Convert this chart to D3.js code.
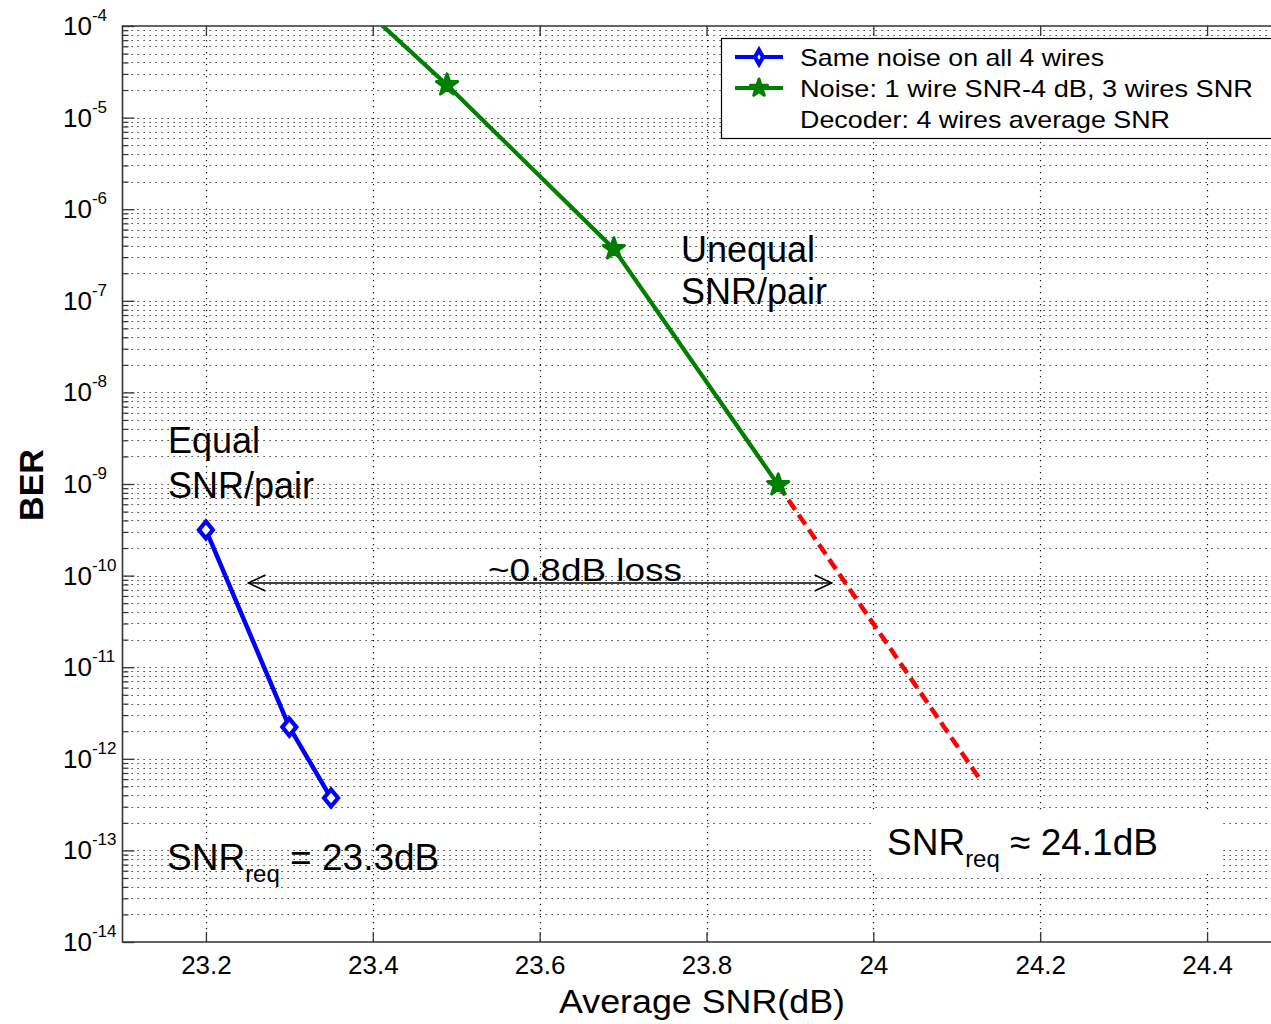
<!DOCTYPE html>
<html>
<head>
<meta charset="utf-8">
<script src="https://cdn.jsdelivr.net/npm/d3@7"></script>
<style>
  html, body { margin: 0; padding: 0; background: #fff; }
  svg { display: block; font-family: "Liberation Sans", Arial, Helvetica, sans-serif; }
</style>
</head>
<body>
<svg id="chart" width="1271" height="1024"></svg>
<script>
// ---------------- data ----------------
const xTickValues = [23.2, 23.4, 23.6, 23.8, 24.0, 24.2, 24.4];
const xTickLabels = ["23.2", "23.4", "23.6", "23.8", "24", "24.2", "24.4"];
const yTickExponents = [-4, -5, -6, -7, -8, -9, -10, -11, -12, -13, -14];

const equalSNR = [23.2, 23.3, 23.35];
const equalBER = [3.15e-10, 2.22e-12, 3.73e-13];

const unequalSNR = [23.29, 23.489, 23.689, 23.886];
const unequalBER = [1.05e-3, 2.27e-5, 3.68e-7, 9.75e-10];

const extrapSNR = [23.886, 24.13];
const extrapBER = [9.75e-10, 5.58e-13];

const legendLabels = ["Same noise on all 4 wires", "Noise: 1 wire SNR-4 dB, 3 wires SNR", "Decoder: 4 wires average SNR"];

const lossArrowSNR = [23.251, 23.95];
const lossArrowBER = 8.3e-11;

// ---------------- setup ----------------
const svg = d3.select("#chart");
const L = 122.5, T = 26, B = 942, R = 1290.5;
const x = d3.scaleLinear().domain([23.1, 24.5]).range([L, R]);
const y = d3.scaleLog().domain([1e-14, 1e-4]).range([B, T]);

svg.append("rect").attr("width", 1271).attr("height", 1024).attr("fill", "#fff");

svg.append("defs").append("clipPath").attr("id", "plotclip")
  .append("rect").attr("x", L).attr("y", T).attr("width", R - L).attr("height", B - T);

const yGridVals = [];
for (let e = -14; e < -4; e++) {
  for (let m = 1; m <= 9; m++) yGridVals.push(m * Math.pow(10, e));
}
const yMajor = yTickExponents.map(e => Math.pow(10, e));
const yMinor = yGridVals.filter(v => !yMajor.some(M => Math.abs(M - v) / M < 1e-9));

const grid = svg.append("g").attr("clip-path", "url(#plotclip)")
  .attr("stroke", "#111").attr("stroke-width", 1.2).attr("stroke-dasharray", "1.2,4.8");
grid.selectAll("line.h").data(yGridVals).join("line").attr("class", "h")
  .attr("x1", L + 3).attr("x2", R).attr("y1", d => Math.round(y(d)) + 0.5).attr("y2", d => Math.round(y(d)) + 0.5);
grid.selectAll("line.v").data(xTickValues).join("line").attr("class", "v")
  .attr("x1", d => Math.round(x(d)) + 0.5).attr("x2", d => Math.round(x(d)) + 0.5).attr("y1", T + 2).attr("y2", B);

// white box behind the right SNR_req annotation
svg.append("rect").attr("x", 872).attr("y", 812).attr("width", 348).attr("height", 61).attr("fill", "#fff");

// ---------------- axes ----------------
const axisColor = "#333";
const gx = svg.append("g").attr("transform", `translate(0,${B})`)
  .call(d3.axisBottom(x).tickValues(xTickValues).tickFormat((d, i) => xTickLabels[i]).tickSize(-10).tickPadding(14));
gx.select(".domain").remove();
gx.selectAll("line").attr("stroke", axisColor).attr("stroke-width", 1.3);
gx.selectAll("text").attr("font-size", 26).attr("fill", "#000").attr("font-family", "Liberation Sans, Arial, sans-serif");

const gxt = svg.append("g").attr("transform", `translate(0,${T})`)
  .call(d3.axisTop(x).tickValues(xTickValues).tickFormat("").tickSize(-10));
gxt.select(".domain").remove();
gxt.selectAll("line").attr("stroke", axisColor).attr("stroke-width", 1.3);

const gyMinor = svg.append("g").attr("transform", `translate(${L},0)`)
  .call(d3.axisLeft(y).tickValues(yMinor).tickFormat("").tickSize(-6));
gyMinor.select(".domain").remove();
gyMinor.selectAll("line").attr("stroke", axisColor).attr("stroke-width", 1.2);

const gyMajor = svg.append("g").attr("transform", `translate(${L},0)`)
  .call(d3.axisLeft(y).tickValues(yMajor).tickFormat("").tickSize(-12));
gyMajor.select(".domain").remove();
gyMajor.selectAll("line").attr("stroke", axisColor).attr("stroke-width", 1.3);

svg.append("path").attr("d", `M${R},${T}H${L}V${B}H${R}`)
  .attr("fill", "none").attr("stroke", axisColor).attr("stroke-width", 1.6);

const ylab = svg.append("g").attr("fill", "#000");
yTickExponents.forEach(e => {
  const yy = y(Math.pow(10, e));
  const t = ylab.append("text").attr("x", 63).attr("y", yy + 9).attr("font-size", 26);
  t.append("tspan").text("10");
  t.append("tspan").attr("font-size", 17).attr("dy", -14).text(String(e));
});

svg.append("text").attr("x", 702).attr("y", 1013).attr("text-anchor", "middle")
  .attr("font-size", 33).attr("textLength", 286).attr("lengthAdjust", "spacingAndGlyphs")
  .text("Average SNR(dB)");
svg.append("text").attr("transform", "translate(43,485) rotate(-90)").attr("text-anchor", "middle")
  .attr("font-size", 34).attr("font-weight", "bold").text("BER");

// ---------------- series ----------------
const plot = svg.append("g").attr("clip-path", "url(#plotclip)");
const line = d3.line().x(d => x(d[0])).y(d => y(d[1]));

const eqPts = equalSNR.map((v, i) => [v, equalBER[i]]);
const uneqPts = unequalSNR.map((v, i) => [v, unequalBER[i]]);
const exPts = extrapSNR.map((v, i) => [v, extrapBER[i]]);

plot.append("path").datum(exPts).attr("d", line).attr("fill", "none")
  .attr("stroke", "#ff0000").attr("stroke-width", 4.5).attr("stroke-dasharray", "12,6");
plot.append("path").datum(uneqPts).attr("d", line).attr("fill", "none")
  .attr("stroke", "#008000").attr("stroke-width", 4.2);
plot.append("path").datum(eqPts).attr("d", line).attr("fill", "none")
  .attr("stroke", "#0000ff").attr("stroke-width", 4.5);

function diamond(g, cx, cy, hw, hh) {
  g.append("path").attr("d", `M${cx},${cy - hh}L${cx + hw},${cy}L${cx},${cy + hh}L${cx - hw},${cy}Z`)
    .attr("fill", "#fff").attr("stroke", "#0000ff").attr("stroke-width", 4.2).attr("stroke-linejoin", "miter");
}
function star(g, cx, cy, size) {
  g.append("path").attr("d", d3.symbol(d3.symbolStar, size)())
    .attr("transform", `translate(${cx},${cy})`)
    .attr("fill", "#008000").attr("stroke", "#008000").attr("stroke-width", 3).attr("stroke-linejoin", "round");
}
eqPts.forEach(p => diamond(plot, x(p[0]), y(p[1]), 7, 8.5));
uneqPts.forEach(p => star(plot, x(p[0]), y(p[1]), 140));

// ---------------- annotations ----------------
const ay = y(lossArrowBER), ax1 = x(lossArrowSNR[0]), ax2 = x(lossArrowSNR[1]);
const arr = svg.append("g").attr("stroke", "#000").attr("stroke-width", 1.6).attr("fill", "none");
arr.append("line").attr("x1", ax1).attr("x2", ax2).attr("y1", ay).attr("y2", ay);
arr.append("path").attr("d", `M${ax1 + 17},${ay - 8}L${ax1},${ay}L${ax1 + 17},${ay + 8}`);
arr.append("path").attr("d", `M${ax2 - 17},${ay - 8}L${ax2},${ay}L${ax2 - 17},${ay + 8}`);

svg.append("text").attr("x", 585).attr("y", 581).attr("text-anchor", "middle")
  .attr("font-size", 31).attr("textLength", 194).attr("lengthAdjust", "spacingAndGlyphs")
  .text("~0.8dB loss");

const ann = svg.append("g").attr("font-size", 36).attr("fill", "#000");
ann.append("text").attr("x", 168).attr("y", 453).text("Equal");
ann.append("text").attr("x", 168).attr("y", 498).text("SNR/pair");
ann.append("text").attr("x", 681).attr("y", 262).text("Unequal");
ann.append("text").attr("x", 681).attr("y", 304).text("SNR/pair");

function snrReq(xp, yp, rest) {
  const t = ann.append("text").attr("x", xp).attr("y", yp).attr("font-size", 37);
  t.append("tspan").text("SNR");
  t.append("tspan").attr("font-size", 24).attr("dy", 12).text("req");
  t.append("tspan").attr("dy", -12).text(rest);
}
snrReq(167, 870, " = 23.3dB");
snrReq(887, 855, " \u2248 24.1dB");

// ---------------- legend ----------------
const lg = svg.append("g");
lg.append("rect").attr("x", 721.5).attr("y", 38.5).attr("width", 600).attr("height", 100)
  .attr("fill", "#fff").attr("stroke", "#000").attr("stroke-width", 1.2);
const lgY = [57, 88, 119];
const lgX = 800;
lg.append("line").attr("x1", 735).attr("x2", 783).attr("y1", lgY[0]).attr("y2", lgY[0])
  .attr("stroke", "#0000ff").attr("stroke-width", 4);
diamond(lg, 759, lgY[0], 4, 7);
lg.append("line").attr("x1", 735).attr("x2", 783).attr("y1", lgY[1]).attr("y2", lgY[1])
  .attr("stroke", "#008000").attr("stroke-width", 4);
star(lg, 759, lgY[1], 90);
const lgW = [304, 453, 370];
legendLabels.forEach((s, i) => {
  lg.append("text").attr("x", lgX).attr("y", lgY[i] + 9).attr("font-size", 24)
    .attr("textLength", lgW[i]).attr("lengthAdjust", "spacingAndGlyphs").text(s);
});
</script>
</body>
</html>
